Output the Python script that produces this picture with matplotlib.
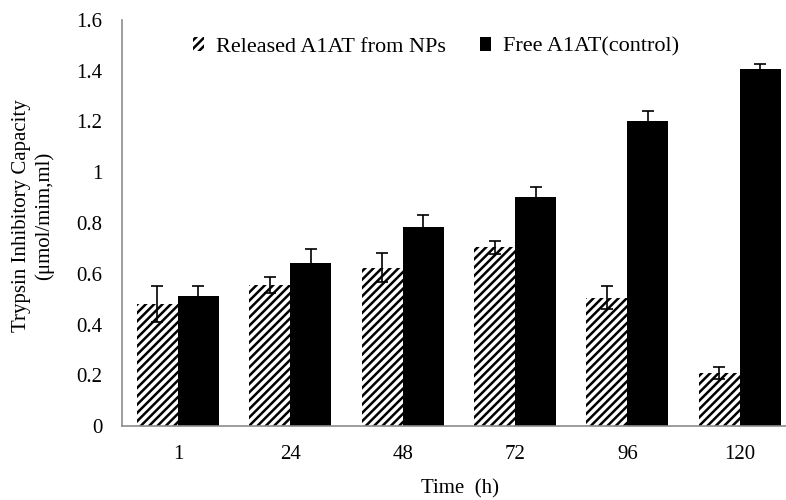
import numpy as np
import matplotlib
matplotlib.use("Agg")
import matplotlib.pyplot as plt
from matplotlib.patches import Patch

# values
times = ["1", "24", "48", "72", "96", "120"]
released = [0.481, 0.556, 0.624, 0.704, 0.506, 0.209]
released_err = [0.071, 0.031, 0.058, 0.025, 0.046, 0.024]
free = [0.513, 0.644, 0.785, 0.901, 1.202, 1.407]
free_err = [0.040, 0.052, 0.048, 0.042, 0.039, 0.018]
yticks = [0, 0.2, 0.4, 0.6, 0.8, 1, 1.2, 1.4, 1.6]

plt.rcParams["font.family"] = ["Liberation Serif", "DejaVu Serif"]
plt.rcParams["hatch.linewidth"] = 1.8
FS = 15
GREY = "#8c8c8c"

fig = plt.figure(figsize=(7.86, 5.0), dpi=100)
# plot area runs past the right edge of the picture, like the original
ax = fig.add_axes([121.7 / 786, 74 / 500, (796 - 121.7) / 786, 406 / 500])

x = np.arange(len(times))
w = 0.365
ax.bar(x - w / 2, released, w, color="white", edgecolor="black",
       hatch="////", linewidth=0, zorder=2)
ax.bar(x + w / 2, free, w, color="black", edgecolor="black",
       linewidth=0, zorder=2)
ax.errorbar(x - w / 2, released, yerr=released_err, fmt="none",
            ecolor="black", elinewidth=1.2, capsize=4, capthick=1.2, zorder=3)
ax.errorbar(x + w / 2, free, yerr=free_err, fmt="none",
            ecolor="black", elinewidth=1.2, capsize=4, capthick=1.2, zorder=3)

ax.set_xlim(-0.5, len(times) - 0.5)
ax.set_ylim(0, 1.6)
ax.set_xticks(x)
ax.set_xticklabels(times, fontsize=FS)
ax.set_yticks(yticks)
ax.set_yticklabels([f"{v:g}" for v in yticks], fontsize=FS)
ax.tick_params(axis="both", length=0)
ax.tick_params(axis="y", pad=14)
ax.tick_params(axis="x", pad=14)
for side in ("top", "right"):
    ax.spines[side].set_visible(False)
for side in ("left", "bottom"):
    ax.spines[side].set_color(GREY)
    ax.spines[side].set_linewidth(1.2)

fig.text(460 / 786, 1 - 489 / 500, "Time  (h)", fontsize=FS,
         ha="center", va="center")
fig.text(33 / 786, 1 - 216 / 500, "Trypsin Inhibitory Capacity\n(\u03bcmol/mim,ml)",
         fontsize=FS, rotation=90, ha="center", va="center",
         multialignment="center", linespacing=1.25)

handles = [Patch(facecolor="white", edgecolor="black", hatch="////", linewidth=0),
           Patch(facecolor="black", edgecolor="black", linewidth=0)]
fig.legend(handles, ["Released A1AT from NPs", "Free A1AT(control)"],
           loc="center left", bbox_to_anchor=(193 / 786, 1 - 47 / 500),
           ncol=2, frameon=False, fontsize=16, handlelength=0.5,
           handleheight=0.55, handletextpad=0.55, columnspacing=1.5,
           borderaxespad=0, borderpad=0)

fig.savefig("out.png", dpi=100)
